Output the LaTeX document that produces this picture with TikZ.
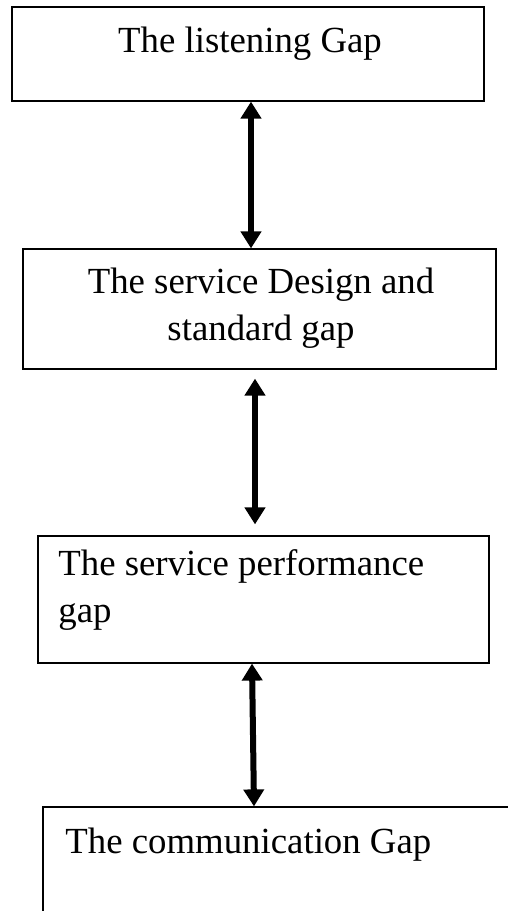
\documentclass[tikz,border=0pt]{standalone}
\usepackage{fontspec}
\setmainfont{Liberation Serif}
\usetikzlibrary{arrows.meta}
\tikzset{
  gapbox/.style={draw=black, line width=0.6pt, rectangle, inner sep=0pt, fill=white},
  gaptext/.style={inner sep=0pt, font=\fontsize{18.4pt}{23.5pt}\selectfont},
  link/.style={line width=3pt, {Triangle[width=10pt,length=8.5pt]}-{Triangle[width=10pt,length=8.5pt]}},
}
\begin{document}
\begin{tikzpicture}[x=0.5pt, y=-0.5pt]
  \clip (0,0) rectangle (508,911);
  \fill[white] (0,0) rectangle (508,911);

  % boxes
  \node[gapbox, minimum width=236pt, minimum height=47pt] (b1) at (248,54) {};
  \node[gapbox, minimum width=236.5pt, minimum height=60pt] (b2) at (259.5,309) {};
  \node[gapbox, minimum width=225.5pt, minimum height=63.5pt] (b3) at (263.5,599.5) {};
  \node[gapbox, minimum width=238.5pt, minimum height=59pt] (b4) at (281.5,866) {};

  % labels (multi-line labels are anchored on their last line)
  \node[gaptext, anchor=base] (t1) at (250,52) {The listening Gap};
  \node[gaptext, anchor=base, align=center] (t2) at (261,340) {The service Design and\\standard gap};
  \node[gaptext, anchor=base west, align=left] (t3) at (58,622) {The service performance\\gap};
  \node[gaptext, anchor=base west] (t4) at (65,853) {The communication Gap};

  % two-way links between neighbouring gaps
  \draw[link] ([xshift=1.5pt]b1.south) -- ([xshift=-4.25pt]b2.north);
  \draw[link] ([xshift=-2.25pt, yshift=-4.5pt]b2.south) -- ([xshift=-4.25pt, yshift=5.5pt]b3.north);
  \draw[link] ([xshift=-5.75pt]b3.south) -- ([xshift=-13.75pt]b4.north);
\end{tikzpicture}
\end{document}
